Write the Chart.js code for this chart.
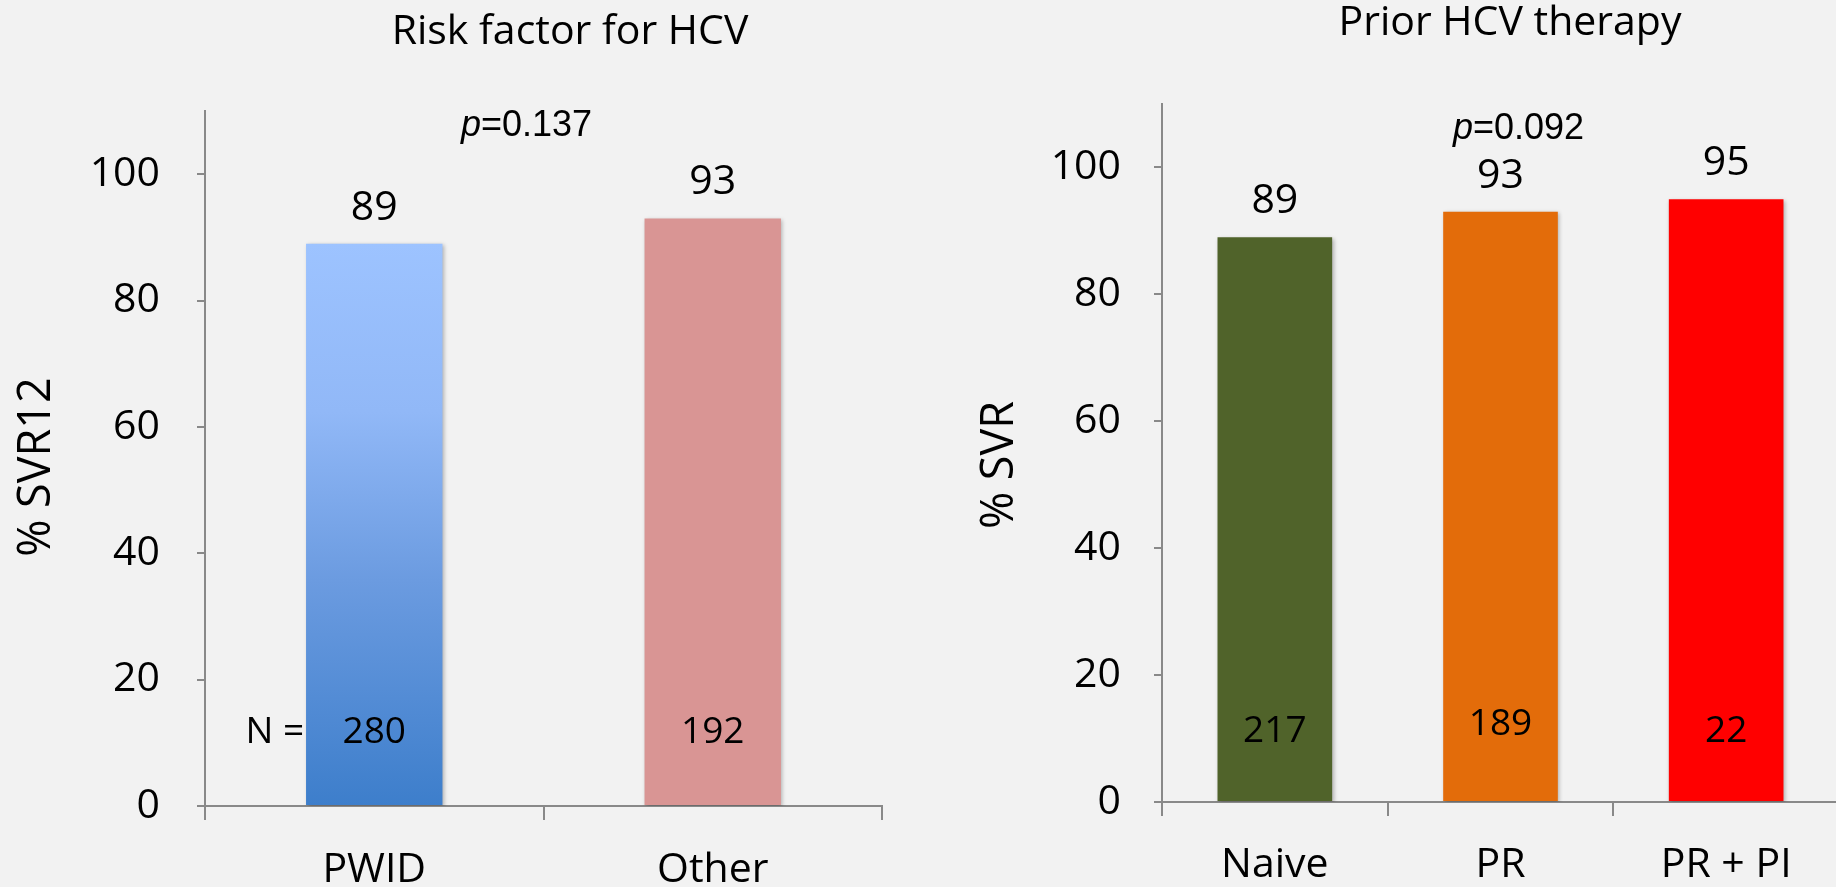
<!DOCTYPE html>
<html>
<head>
<meta charset="utf-8">
<script src="https://cdn.jsdelivr.net/npm/chart.js@4.4.1/dist/chart.umd.min.js"></script>
<style>
  html, body { margin: 0; padding: 0; background: #f2f2f2; overflow: hidden; }
  body { width: 1836px; height: 887px; position: relative; }
  .box { position: absolute; top: 0; height: 887px; }
  #leftBox { left: 0; width: 900px; }
  #rightBox { left: 900px; width: 960px; }
</style>
</head>
<body>
<div class="box" id="leftBox"><canvas id="leftChart" width="900" height="887"></canvas></div>
<div class="box" id="rightBox"><canvas id="rightChart" width="960" height="887"></canvas></div>
<script>
// Data
const riskCategories = ['PWID', 'Other'];
const riskSVR = [89, 93];
const riskN = [280, 192];
const riskColors = ['#3d7ecb', '#d99594'];

const priorCategories = ['Naive', 'PR', 'PR + PI'];
const priorSVR = [89, 93, 95];
const priorN = [217, 189, 22];
const priorColors = ['#50632a', '#e36c0a', '#ff0000'];

const yTickValues = [0, 20, 40, 60, 80, 100];

const AXIS = '#898989';
const FONT = "'Open Sans', sans-serif";

// bars get a soft shadow like the original slide
const shadowPlugin = {
    id: 'barShadow',
    beforeDatasetsDraw(chart) {
        const c = chart.ctx;
        c.save();
        c.shadowColor = 'rgba(0, 0, 0, 0.28)';
        c.shadowBlur = 4;
        c.shadowOffsetX = 1.5;
        c.shadowOffsetY = 1.5;
    },
    afterDatasetsDraw(chart) {
        chart.ctx.restore();
    }
};

// titles, p value, bar values and N counts
const textPlugin = {
    id: 'slideText',
    afterDraw(chart, args, o) {
        const c = chart.ctx;
        const yScale = chart.scales.y;
        const meta = chart.getDatasetMeta(0);
        const values = chart.data.datasets[0].data;
        c.save();
        c.fillStyle = '#000';

        // title
        c.font = '41px ' + FONT;
        c.textAlign = 'center';
        c.textBaseline = 'alphabetic';
        c.fillText(o.title, o.titleX, o.titleY);

        // y axis title
        c.save();
        c.translate(o.yTitleX, o.yTitleY);
        c.rotate(-Math.PI / 2);
        c.font = '45px ' + FONT;
        c.fillText(o.yTitle, 0, 0);
        c.restore();

        // p value
        c.textAlign = 'left';
        c.font = 'italic 36px "Liberation Sans", Arial, sans-serif';
        c.fillText('p', o.pX, o.pY);
        const pw = c.measureText('p').width;
        c.font = '36px "Liberation Sans", Arial, sans-serif';
        c.fillText('=' + o.pValue, o.pX + pw, o.pY);

        // values above bars and N inside bars
        c.textAlign = 'center';
        meta.data.forEach((bar, i) => {
            c.font = '41px ' + FONT;
            c.fillText(String(values[i]), bar.x, bar.y - 24);
            c.font = '37px ' + FONT;
            c.fillText(String(o.counts[i]), bar.x, yScale.getPixelForValue(o.nY[i]));
        });
        if (o.nPrefix) {
            const first = meta.data[0];
            c.textAlign = 'right';
            c.font = '37px ' + FONT;
            c.fillText('N =', first.x - first.width / 2 - 2, yScale.getPixelForValue(o.nY[0]));
        }
        c.restore();
    }
};

function makeChart(canvasId, cfg) {
    const ctx = document.getElementById(canvasId).getContext('2d');
    return new Chart(ctx, {
        type: 'bar',
        data: {
            labels: cfg.labels,
            datasets: [{
                data: cfg.values,
                backgroundColor: cfg.colors,
                borderWidth: 0,
                categoryPercentage: 1,
                barPercentage: cfg.barPct
            }]
        },
        options: {
            responsive: false,
            animation: false,
            layout: { padding: cfg.padding },
            plugins: {
                legend: { display: false },
                tooltip: { enabled: false },
                slideText: cfg.text
            },
            scales: {
                x: {
                    grid: { drawOnChartArea: false, drawTicks: true, tickLength: 14, color: AXIS, lineWidth: 2 },
                    border: { color: AXIS, width: 2 },
                    ticks: { color: '#000', font: { family: FONT, size: 41 }, padding: cfg.xPad, maxRotation: 0 },
                    afterFit: s => { s.height = cfg.xHeight; }
                },
                y: {
                    min: 0,
                    max: 110,
                    grid: { drawOnChartArea: false, drawTicks: true, tickLength: 8, color: AXIS, lineWidth: 2 },
                    border: { color: AXIS, width: 2 },
                    ticks: { color: '#000', font: { family: FONT, size: 41 }, padding: cfg.yPad },
                    afterBuildTicks: s => { s.ticks = yTickValues.map(v => ({ value: v })); },
                    afterFit: s => { s.width = cfg.yWidth; }
                }
            }
        },
        plugins: [shadowPlugin, textPlugin]
    });
}

// left chart: PWID bar uses a vertical gradient
const leftCtx = document.getElementById('leftChart').getContext('2d');
const pwidGradient = leftCtx.createLinearGradient(0, 243, 0, 806);
pwidGradient.addColorStop(0, '#9dc3ff');
pwidGradient.addColorStop(0.3, '#91b8f7');
pwidGradient.addColorStop(0.6, '#6b9be0');
pwidGradient.addColorStop(1, '#3d7ecb');

makeChart('leftChart', {
    labels: riskCategories,
    values: riskSVR,
    colors: [pwidGradient, riskColors[1]],
    barPct: 0.403,
    padding: { left: 0, right: 18, top: 111, bottom: 0 },
    xHeight: 81,
    xPad: 26,
    yWidth: 205,
    yPad: 37,
    text: {
        title: 'Risk factor for HCV', titleX: 570, titleY: 44,
        yTitle: '% SVR12', yTitleX: 50, yTitleY: 467,
        pValue: '0.137', pX: 461, pY: 136,
        counts: riskN, nY: [10, 10], nPrefix: true
    }
});

makeChart('rightChart', {
    labels: priorCategories,
    values: priorSVR,
    colors: priorColors,
    barPct: 0.508,
    padding: { left: 0, right: 21, top: 104, bottom: 0 },
    xHeight: 85,
    xPad: 25,
    yWidth: 262,
    yPad: 33,
    text: {
        title: 'Prior HCV therapy', titleX: 610, titleY: 35,
        yTitle: '% SVR', yTitleX: 113, yTitleY: 465,
        pValue: '0.092', pX: 553, pY: 139,
        counts: priorN, nY: [9.5, 10.5, 9.5], nPrefix: false
    }
});
</script>
</body>
</html>
